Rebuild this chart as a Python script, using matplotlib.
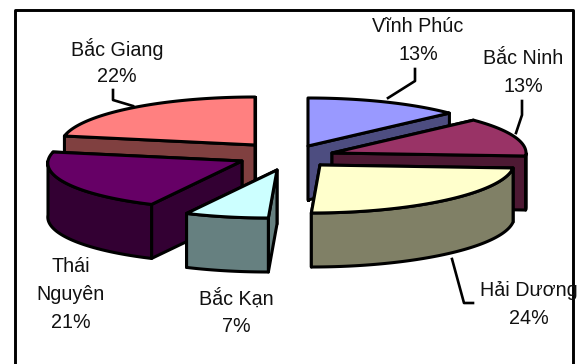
import numpy as np
import matplotlib
matplotlib.use("Agg")
import matplotlib.pyplot as plt
from matplotlib.patches import Polygon

# Province shares in percent, clockwise from twelve o'clock
provinces = ["Vĩnh Phúc", "Bắc Ninh", "Hải Dương", "Bắc Kạn", "Thái Nguyên", "Bắc Giang"]
shares = [13, 13, 24, 7, 21, 22]
top_colors = ["#9999FF", "#993366", "#FFFFCC", "#CCFFFF", "#660066", "#FF8080"]
side_colors = ["#4D4D80", "#4D1933", "#808066", "#668080", "#330033", "#804040"]
label_lines = [["Vĩnh Phúc"], ["Bắc Ninh"], ["Hải Dương"], ["Bắc Kạn"], ["Thái", "Nguyên"], ["Bắc Giang"]]

# Layout in canvas pixels: exploded apex of each wedge and its perspective lean
apexes = [(308, 146), (332, 153), (320, 165), (277, 170), (242, 161), (255, 145)]
leans = [0, 0, -0.18, -0.18, -0.18, 0]
label_pos = [(418, 27), (523, 59), (529, 291), (236, 299), (71, 267), (117, 49)]
leaders = [
    [(415, 69), (415, 81), (388, 98)],
    [(522, 101), (522, 115), (516, 133)],
    [(452, 259), (464, 303), (473, 303)],
    None,
    None,
    [(113, 90), (113, 100), (133, 106)],
]
RX, RY, DEPTH = 194, 48, 54

fig = plt.figure(figsize=(5.83, 3.64), dpi=100)
ax = fig.add_axes([0, 0, 1, 1])
ax.set_xlim(0, 583)
ax.set_ylim(364, 0)
ax.axis("off")
plt.rcParams["font.family"] = "Liberation Sans"

# Outer frame, open past the lower canvas edge
ax.plot([15, 15, 573, 573], [364, 10, 10, 364], color="black", lw=2.1, zorder=1, clip_on=False)


def rim(apex, lean, a0, a1):
    t = np.radians(np.linspace(a0, a1, max(2, int(abs(a1 - a0)) + 1)))
    dy = -RY * np.cos(t)
    return np.column_stack([apex[0] + RX * np.sin(t) + lean * dy, apex[1] + dy])


edges = np.concatenate([[0], np.cumsum(shares)]) * 3.6
order = [0, 5, 1, 4, 2, 3]  # back to front
z = 2
down = np.array([0, DEPTH])
outline = dict(edgecolor="black", lw=2.2, joinstyle="round")
for i in order:
    a0, a1 = edges[i], edges[i + 1]
    apex = np.array(apexes[i], float)
    arc = rim(apex, leans[i], a0, a1)
    # cut faces, the one turned towards the viewer painted last
    start_front = np.sin(np.radians(a0)) < 1e-9
    end_front = np.sin(np.radians(a1)) > 1e-9
    faces = sorted([(start_front, arc[0]), (end_front, arc[-1])], key=lambda f: f[0])
    for _, p in faces:
        ax.add_patch(Polygon([apex, p, p + down, apex + down], facecolor=side_colors[i], zorder=z, **outline))
    # curved wall, only where it faces the viewer
    lo, hi = max(a0, 90), min(a1, 270)
    if hi > lo:
        wall = rim(apex, leans[i], lo, hi)
        ax.add_patch(Polygon(np.vstack([wall, wall[::-1] + down]), facecolor=side_colors[i], zorder=z, **outline))
    # top surface
    ax.add_patch(Polygon(np.vstack([apex, arc]), facecolor=top_colors[i], zorder=z, **outline))
    z += 1

LINE_H = 27.5
for name, lines, share, pos, leader in zip(provinces, label_lines, shares, label_pos, leaders):
    for k, text in enumerate(lines + [f"{share}%"]):
        ax.text(pos[0], pos[1] + k * LINE_H, text, ha="center", va="center", fontsize=14.2, color="#111111", zorder=20)
    if leader:
        xs, ys = zip(*leader)
        ax.plot(xs, ys, color="black", lw=1.9, zorder=19)

fig.savefig("out.png", dpi=100)
